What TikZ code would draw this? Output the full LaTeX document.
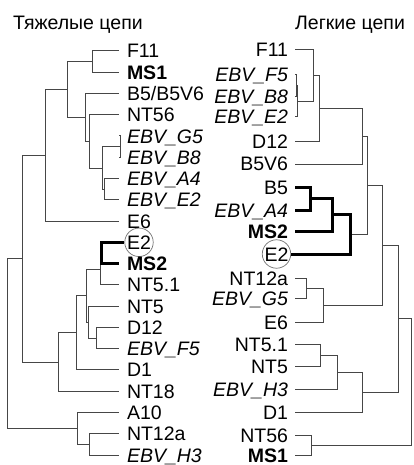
\documentclass[tikz,border=0pt]{standalone}
\usepackage{fontspec}
\setmainfont{Liberation Sans}
\definecolor{branch}{HTML}{464646}
\begin{document}
\begin{tikzpicture}[x=1pt,y=-1pt,
  every node/.style={font=\fontsize{19.5}{21}\selectfont,inner sep=0pt,text height=14pt,text depth=0pt},
  leafL/.style={anchor=west,outer xsep=8pt},
  leafR/.style={anchor=east,outer xsep=7pt},
  ring/.style={circle,draw=black!55,line width=.7pt,inner sep=.3pt},
  br/.style={draw=branch,line width=1pt},
  hot/.style={draw=black,line width=3pt}]
\useasboundingbox (0,0) rectangle (413,465);
% titles
\node[anchor=west] (tHeavy) at (13,23) {Тяжелые цепи};
\node[anchor=west] (tLight) at (295,23) {Легкие цепи};
% heavy chains, leaves
\node[leafL] (lF11) at (119,51) {F11};
\node[leafL] (lMS1) at (119,72.3) {\bfseries MS1};
\node[leafL] (lB5) at (119,93.5) {B5/B5V6};
\node[leafL] (lNT56) at (119,114.8) {NT56};
\node[leafL] (lG5) at (119,136) {\itshape EBV\_G5};
\node[leafL] (lB8) at (119,157.3) {\itshape EBV\_B8};
\node[leafL] (lA4) at (119,178.6) {\itshape EBV\_A4};
\node[leafL] (lE2) at (119,199.8) {\itshape EBV\_E2};
\node[leafL] (lE6) at (119,221) {E6};
\node[ring] (lE2c) at (139,242.3) {E2};
\node[leafL] (lMS2) at (119,263.6) {\bfseries MS2};
\node[leafL] (lNT51) at (119,284.9) {NT5.1};
\node[leafL] (lNT5) at (119,306.1) {NT5};
\node[leafL] (lD12) at (119,327.4) {D12};
\node[leafL] (lF5) at (119,348.6) {\itshape EBV\_F5};
\node[leafL] (lD1) at (119,369.9) {D1};
\node[leafL] (lNT18) at (119,391.2) {NT18};
\node[leafL] (lA10) at (119,412.4) {A10};
\node[leafL] (lNT12a) at (119,433.7) {NT12a};
\node[leafL] (lH3) at (119,455) {\itshape EBV\_H3};
% heavy chains, joins
\coordinate (a1) at (92,61.7);
\coordinate (a2) at (120.5,146.7);
\coordinate (a3) at (104,189.2);
\coordinate (a4) at (102,168);
\coordinate (a5) at (89,141.4);
\coordinate (a6) at (85,117.5);
\coordinate (a7) at (67,89.6);
\coordinate (a8) at (45,155.3);
\coordinate (b1) at (101,253);
\coordinate (b2) at (100,269);
\coordinate (b3) at (96,338);
\coordinate (b4) at (88,322);
\coordinate (b5) at (86,295.5);
\coordinate (b6) at (76,332.7);
\coordinate (b7) at (58,362);
\coordinate (b8) at (22,258.6);
\coordinate (c1) at (89,444.4);
\coordinate (c2) at (77,428.4);
\coordinate (c0) at (7,343.5);
\foreach \p/\c in {a1/lF11.west,a1/lMS1.west,a2/lG5.west,a2/lB8.west,a3/lA4.west,a3/lE2.west,
  a4/a2,a4/a3,a5/lNT56.west,a5/a4,a6/lB5.west,a6/a5,a7/a1,a7/a6,a8/a7,a8/lE6.west,
  b2/b1,b2/lNT51.west,b3/lD12.west,b3/lF5.west,b4/lNT5.west,b4/b3,b5/b2,b5/b4,
  b6/b5,b6/lD1.west,b7/b6,b7/lNT18.west,b8/a8,b8/b7,c1/lNT12a.west,c1/lH3.west,
  c2/lA10.west,c2/c1,c0/b8,c0/c2}{\draw[br] (\p) |- (\c);}
\foreach \c in {lE2c.west,lMS2.west}{\draw[hot] (b1) |- (\c);}
% light chains, leaves
\node[leafR] (rF11) at (295,50) {F11};
\node[leafR] (rF5) at (295,75) {\itshape EBV\_F5};
\node[leafR] (rB8) at (295,97) {\itshape EBV\_B8};
\node[leafR] (rE2) at (295,117) {\itshape EBV\_E2};
\node[leafR] (rD12) at (295,142) {D12};
\node[leafR] (rB5V6) at (295,164) {B5V6};
\node[leafR] (rB5) at (295,187) {B5};
\node[leafR] (rA4) at (295,210) {\itshape EBV\_A4};
\node[leafR] (rMS2) at (295,231) {\bfseries MS2};
\node[ring] (rE2c) at (276.5,254) {E2};
\node[leafR] (rNT12a) at (295,278) {NT12a};
\node[leafR] (rG5) at (295,298) {\itshape EBV\_G5};
\node[leafR] (rE6) at (295,322) {E6};
\node[leafR] (rNT51) at (295,344) {NT5.1};
\node[leafR] (rNT5) at (295,366) {NT5};
\node[leafR] (rH3) at (295,389) {\itshape EBV\_H3};
\node[leafR] (rD1) at (295,412) {D1};
\node[leafR] (rNT56) at (295,435) {NT56};
\node[leafR] (rMS1) at (295,455) {\bfseries MS1};
% light chains, joins
\coordinate (r1) at (296,86);
\coordinate (r2) at (297.5,101.5);
\coordinate (r3) at (313,75.8);
\coordinate (r4) at (319,108.9);
\coordinate (r5) at (362,136.4);
\coordinate (s1) at (310,198.5);
\coordinate (s2) at (332,214.8);
\coordinate (s3) at (350,234.9);
\coordinate (r6) at (367,185.6);
\coordinate (t1) at (306,288);
\coordinate (t2) at (323,305);
\coordinate (r7) at (382,245.3);
\coordinate (u1) at (320,355);
\coordinate (u2) at (337,372);
\coordinate (u3) at (362,392);
\coordinate (r8) at (398,318.6);
\coordinate (v1) at (311,445);
\coordinate (r0) at (411,381.8);
\foreach \p/\c in {r1/rF5.east,r1/rB8.east,r2/r1,r2/rE2.east,r3/rF11.east,r3/r2,r4/r3,r4/rD12.east,
  r5/r4,r5/rB5V6.east,r6/r5,r6/s3,t1/rNT12a.east,t1/rG5.east,t2/t1,t2/rE6.east,r7/r6,r7/t2,
  u1/rNT51.east,u1/rNT5.east,u2/u1,u2/rH3.east,u3/u2,u3/rD1.east,r8/r7,r8/u3,
  v1/rNT56.east,v1/rMS1.east,r0/r8,r0/v1}{\draw[br] (\p) |- (\c);}
\foreach \p/\c in {s1/rB5.east,s1/rA4.east,s2/s1,s2/rMS2.east,s3/s2,s3/rE2c.east}{\draw[hot] (\p) |- (\c);}
\end{tikzpicture}
\end{document}
